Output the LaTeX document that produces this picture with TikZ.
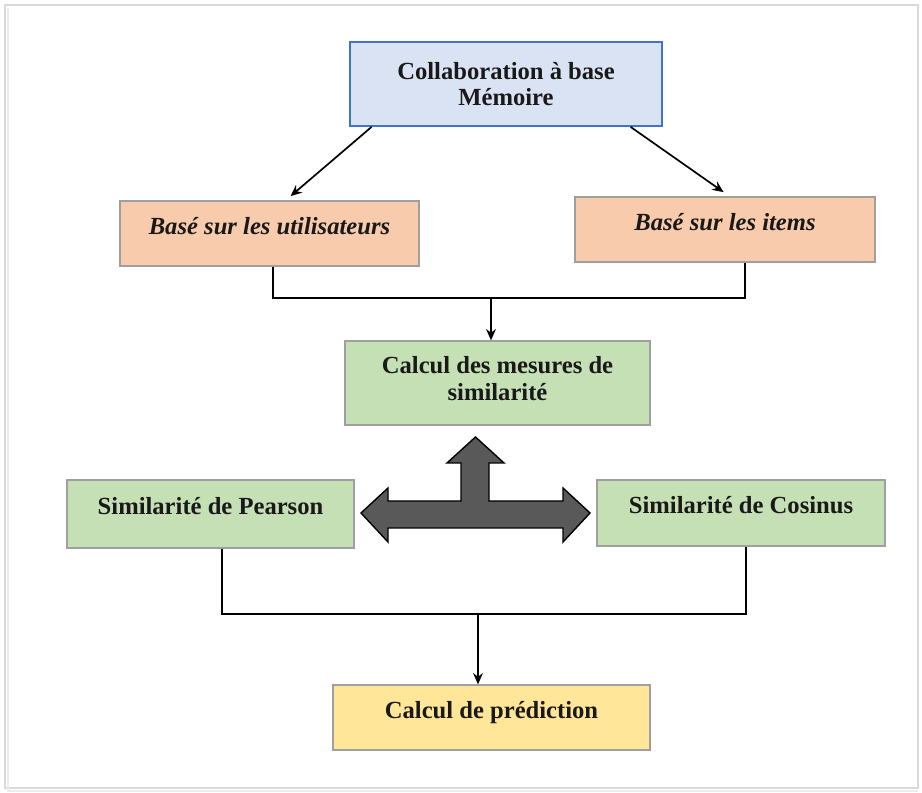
\documentclass[tikz,border=0pt]{standalone}
\usepackage{fontspec}
\setmainfont{Liberation Serif}
\usetikzlibrary{arrows.meta}

\definecolor{memblue}{HTML}{DAE3F3}
\definecolor{memedge}{HTML}{4472C4}
\definecolor{basepeach}{HTML}{F8CBAD}
\definecolor{simgreen}{HTML}{C5E0B4}
\definecolor{predyellow}{HTML}{FFE699}
\definecolor{bigarrow}{HTML}{595959}

\begin{document}
\begin{tikzpicture}[x=0.025cm,y=-0.025cm,>={Stealth[length=8pt,width=7pt]},
  line width=1.2pt,
  main box/.style={rectangle,draw=gray!75,line width=0.9pt,fill=#1,
    font=\fontsize{17.5}{19}\selectfont\bfseries,text=black!90,align=center,inner sep=0pt},
  one line/.style={text height=12pt,text depth=11pt}]

  % frame
  \useasboundingbox (0,0) rectangle (922,793);
  \draw[gray!30,line width=2pt] (5,5) rectangle (918,788);
  \draw[gray!15,line width=2pt] (8,8) -- (8,791) -- (918,791);

  \node[main box=memblue,draw=memedge,line width=1.3pt,minimum width=7.8cm,minimum height=2.1cm]
    (mem) at (506,84) {Collaboration à base\\Mémoire};
  \node[main box=basepeach,one line,minimum width=7.475cm,minimum height=1.625cm,
    font=\fontsize{17.5}{19}\selectfont\bfseries\itshape]
    (user) at (269.5,233.5) {Basé sur les utilisateurs};
  \node[main box=basepeach,one line,minimum width=7.5cm,minimum height=1.625cm,
    font=\fontsize{17.5}{19}\selectfont\bfseries\itshape]
    (item) at (725,229.5) {Basé sur les items};
  \node[main box=simgreen,minimum width=7.625cm,minimum height=2.1cm]
    (calc) at (497.5,383) {Calcul des mesures de\\similarité\rule[-6pt]{0pt}{0pt}};
  \node[main box=simgreen,one line,minimum width=7.175cm,minimum height=1.7cm]
    (pear) at (210.5,514) {Similarité de Pearson};
  \node[main box=simgreen,one line,minimum width=7.2cm,minimum height=1.65cm]
    (cos) at (741,513) {Similarité de Cosinus};
  \node[main box=predyellow,one line,minimum width=7.925cm,minimum height=1.625cm]
    (pred) at (491.5,717.5) {Calcul de prédiction};

  \coordinate (j1) at (491,298);
  \coordinate (j2) at (478,614);

  \draw[->] ([xshift=16pt]mem.south west) -- ([xshift=15pt,yshift=3pt]user.north);
  \draw[->] ([xshift=-23pt]mem.south east) -- ([xshift=-1pt,yshift=3pt]item.north);

  \draw ([xshift=2.5pt]user.south) |- (j1) -| ([xshift=14pt]item.south);
  \draw[->] (j1) -- (j1 |- calc.north);
  \draw ([xshift=8pt]pear.south) |- (j2) -| ([xshift=3.5pt]cos.south);
  \draw[->] (j2) -- (j2 |- pred.north);

  % big three-way arrow
  \draw[fill=bigarrow,line width=1pt,line join=miter]
    (361,513) -- (388,488) -- (388,501) -- (461,501) -- (461,463) -- (447,463)
    -- (475.5,437) -- (504,463) -- (489,463) -- (489,501) -- (563,501)
    -- (563,488) -- (590,513) -- (563,542) -- (563,528) -- (388,528)
    -- (388,542) -- cycle;
\end{tikzpicture}
\end{document}
